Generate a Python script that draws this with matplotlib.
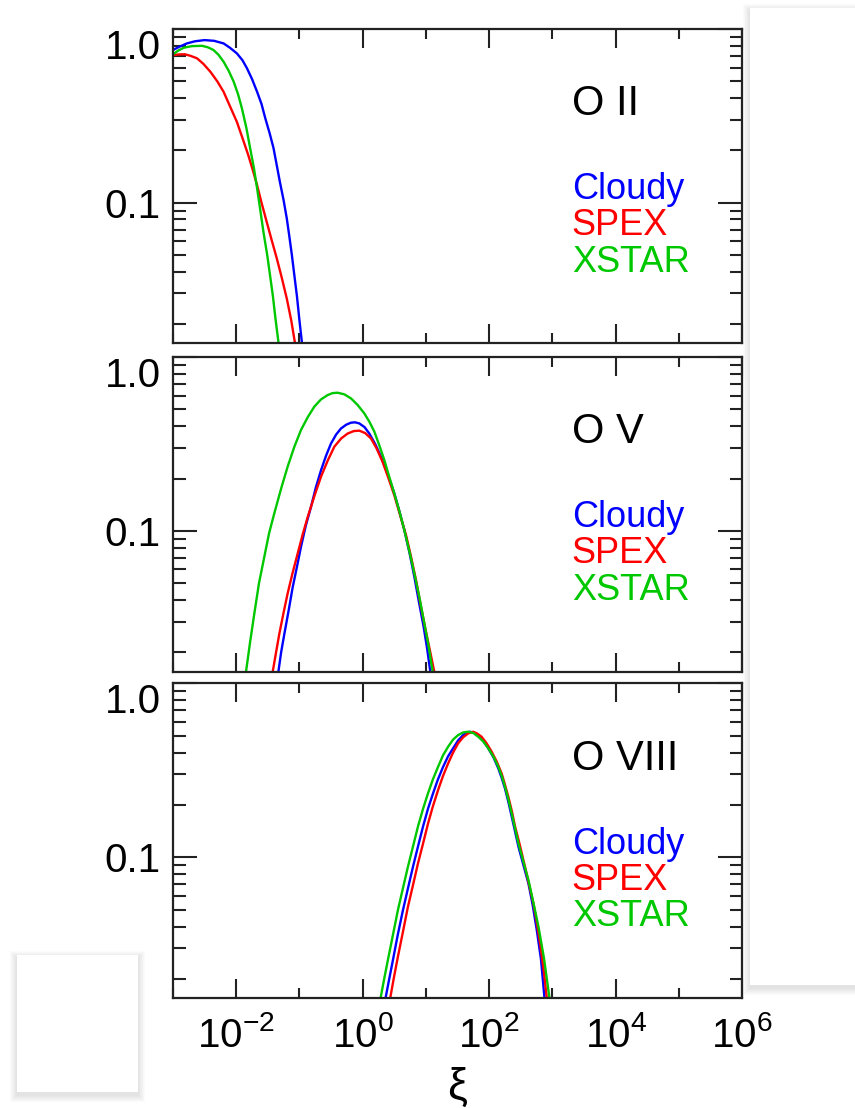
import numpy as np
import matplotlib
matplotlib.use('Agg')
import matplotlib.pyplot as plt
from matplotlib.patches import Rectangle
from matplotlib.ticker import FixedLocator, LogLocator, NullFormatter

plt.rcParams['font.family'] = ['Liberation Sans', 'DejaVu Sans']
plt.rcParams['mathtext.fontset'] = 'custom'
plt.rcParams['mathtext.rm'] = 'Liberation Sans'
plt.rcParams['mathtext.it'] = 'Liberation Sans:italic'

# ion labels and code names
ions = ['O II', 'O V', 'O VIII']
codes = ['Cloudy', 'SPEX', 'XSTAR']
code_colors = ['#0000ff', '#ff0000', '#00c800']

# ---- O II : log10(xi) and ion fraction ----
oii_cloudy_logxi = [-3.0, -2.9, -2.78, -2.65, -2.5, -2.35, -2.2, -2.1, -1.99, -1.9, -1.83, -1.75, -1.67, -1.6,
                    -1.54, -1.47, -1.41, -1.36, -1.31, -1.25, -1.2, -1.16, -1.12, -1.08, -1.04, -1.0, -0.96, -0.94]
oii_cloudy_frac = [0.757, 0.79, 0.826, 0.85, 0.863, 0.855, 0.826, 0.78, 0.724, 0.66, 0.594, 0.515, 0.435, 0.37,
                   0.306, 0.25, 0.206, 0.165, 0.132, 0.103, 0.081, 0.064, 0.05, 0.038, 0.029, 0.021, 0.0155, 0.013]
oii_spex_logxi = [-3.0, -2.9, -2.81, -2.72, -2.62, -2.52, -2.41, -2.3, -2.2, -2.1, -1.99, -1.9, -1.81, -1.74,
                  -1.67, -1.6, -1.52, -1.44, -1.36, -1.28, -1.2, -1.13, -1.07, -1.05]
oii_spex_frac = [0.708, 0.714, 0.715, 0.7, 0.678, 0.63, 0.568, 0.5, 0.435, 0.36, 0.292, 0.235, 0.188, 0.155,
                 0.126, 0.1, 0.078, 0.061, 0.048, 0.037, 0.028, 0.021, 0.0155, 0.013]
oii_xstar_logxi = [-3.0, -2.92, -2.83, -2.7, -2.54, -2.45, -2.36, -2.28, -2.2, -2.12, -2.04, -1.97, -1.91, -1.84,
                   -1.78, -1.72, -1.67, -1.62, -1.57, -1.51, -1.46, -1.42, -1.38, -1.33, -1.31]
oii_xstar_frac = [0.715, 0.75, 0.78, 0.797, 0.8, 0.785, 0.757, 0.71, 0.648, 0.575, 0.497, 0.42, 0.349, 0.27,
                  0.206, 0.158, 0.121, 0.091, 0.068, 0.05, 0.037, 0.029, 0.0216, 0.0155, 0.013]

# ---- O V ----
ov_cloudy_logxi = [-1.36, -1.334, -1.29, -1.239, -1.17, -1.108, -1.04, -0.976, -0.9, -0.818, -0.74, -0.659, -0.58,
                   -0.501, -0.42, -0.343, -0.26, -0.185, -0.12, -0.053, 0.03, 0.105, 0.2, 0.29, 0.4, 0.501, 0.58,
                   0.659, 0.74, 0.818, 0.89, 0.965, 1.02, 1.071, 1.09]
ov_cloudy_frac = [0.013, 0.0154, 0.02, 0.0255, 0.035, 0.0472, 0.062, 0.0809, 0.107, 0.137, 0.178, 0.223, 0.27,
                  0.318, 0.358, 0.388, 0.408, 0.419, 0.421, 0.415, 0.395, 0.363, 0.315, 0.267, 0.21, 0.164, 0.13,
                  0.101, 0.075, 0.0543, 0.039, 0.028, 0.021, 0.0154, 0.013]
ov_spex_logxi = [-1.45, -1.424, -1.37, -1.319, -1.25, -1.187, -1.11, -1.028, -0.95, -0.87, -0.76, -0.659, -0.55,
                 -0.448, -0.34, -0.237, -0.14, -0.053, 0.04, 0.132, 0.22, 0.316, 0.41, 0.501, 0.59, 0.686, 0.765,
                 0.844, 0.92, 1.002, 1.07, 1.134, 1.15]
ov_spex_frac = [0.013, 0.0154, 0.02, 0.0255, 0.034, 0.0436, 0.057, 0.074, 0.095, 0.12, 0.16, 0.205, 0.255,
                0.305, 0.34, 0.363, 0.375, 0.377, 0.365, 0.34, 0.298, 0.249, 0.2, 0.16, 0.124, 0.0944, 0.071,
                0.052, 0.037, 0.0262, 0.02, 0.0154, 0.013]
ov_xstar_logxi = [-1.87, -1.846, -1.78, -1.714, -1.64, -1.556, -1.48, -1.398, -1.29, -1.187, -1.08, -0.976, -0.87,
                  -0.765, -0.66, -0.554, -0.475, -0.396, -0.29, -0.185, -0.08, 0.026, 0.105, 0.185, 0.264, 0.343,
                  0.42, 0.501, 0.58, 0.659, 0.74, 0.818, 0.9, 0.976, 1.04, 1.108, 1.13]
ov_xstar_frac = [0.013, 0.0154, 0.023, 0.0334, 0.05, 0.0708, 0.097, 0.126, 0.175, 0.234, 0.305, 0.38, 0.45,
                 0.518, 0.57, 0.604, 0.62, 0.623, 0.61, 0.578, 0.53, 0.474, 0.425, 0.372, 0.31, 0.255,
                 0.205, 0.164, 0.13, 0.101, 0.076, 0.0568, 0.041, 0.0293, 0.022, 0.0154, 0.013]

# ---- O VIII ----
oviii_cloudy_logxi = [0.34, 0.36, 0.42, 0.477, 0.556, 0.636, 0.715, 0.795, 0.874, 0.954, 1.033, 1.113, 1.19, 1.272,
                      1.35, 1.43, 1.51, 1.589, 1.64, 1.695, 1.77, 1.854, 1.92, 1.987, 2.07, 2.146, 2.2, 2.252,
                      2.305, 2.358, 2.41, 2.464, 2.54, 2.623, 2.69, 2.755, 2.82, 2.877, 2.9]
oviii_cloudy_frac = [0.013, 0.0154, 0.02, 0.0255, 0.036, 0.0495, 0.066, 0.088, 0.115, 0.15, 0.19, 0.233, 0.28, 0.331,
                     0.38, 0.423, 0.47, 0.504, 0.52, 0.527, 0.518, 0.493, 0.46, 0.423, 0.375, 0.324, 0.285, 0.248,
                     0.208, 0.171, 0.141, 0.115, 0.091, 0.0705, 0.053, 0.038, 0.026, 0.0154, 0.013]
oviii_spex_logxi = [0.41, 0.434, 0.49, 0.556, 0.635, 0.715, 0.795, 0.874, 0.955, 1.033, 1.11, 1.192, 1.27, 1.351,
                    1.43, 1.51, 1.59, 1.669, 1.748, 1.81, 1.881, 1.96, 2.04, 2.12, 2.199, 2.25, 2.305, 2.36,
                    2.411, 2.48, 2.543, 2.62, 2.702, 2.755, 2.808, 2.86, 2.914, 2.94]
oviii_spex_frac = [0.013, 0.0154, 0.02, 0.0267, 0.037, 0.0518, 0.069, 0.092, 0.12, 0.156, 0.196, 0.243, 0.293, 0.346,
                   0.4, 0.452, 0.49, 0.515, 0.527, 0.515, 0.493, 0.452, 0.405, 0.355, 0.303, 0.262, 0.222, 0.184,
                   0.15, 0.12, 0.0962, 0.073, 0.054, 0.042, 0.0318, 0.023, 0.0154, 0.013]
oviii_xstar_logxi = [0.26, 0.281, 0.34, 0.397, 0.48, 0.556, 0.635, 0.715, 0.795, 0.874, 0.955, 1.033, 1.11, 1.192,
                     1.27, 1.351, 1.43, 1.51, 1.59, 1.669, 1.75, 1.828, 1.91, 1.987, 2.07, 2.146, 2.2, 2.252,
                     2.305, 2.358, 2.41, 2.464, 2.54, 2.623, 2.7, 2.782, 2.87, 2.956, 2.98]
oviii_xstar_frac = [0.013, 0.0154, 0.02, 0.0255, 0.036, 0.0495, 0.066, 0.088, 0.115, 0.15, 0.19, 0.233, 0.28, 0.331,
                    0.385, 0.432, 0.475, 0.504, 0.522, 0.527, 0.518, 0.493, 0.462, 0.423, 0.378, 0.331, 0.293, 0.254,
                    0.215, 0.178, 0.147, 0.12, 0.095, 0.0738, 0.055, 0.0397, 0.026, 0.0154, 0.013]

panel_data = [
    [(oii_cloudy_logxi, oii_cloudy_frac), (oii_spex_logxi, oii_spex_frac), (oii_xstar_logxi, oii_xstar_frac)],
    [(ov_cloudy_logxi, ov_cloudy_frac), (ov_spex_logxi, ov_spex_frac), (ov_xstar_logxi, ov_xstar_frac)],
    [(oviii_cloudy_logxi, oviii_cloudy_frac), (oviii_spex_logxi, oviii_spex_frac), (oviii_xstar_logxi, oviii_xstar_frac)],
]

xtick_major = [1e-2, 1e0, 1e2, 1e4, 1e6]
xtick_minor = [1e-3, 1e-1, 1e1, 1e3, 1e5]
xtick_labels = [r'$10^{-2}$', r'$10^{0}$', r'$10^{2}$', r'$10^{4}$', r'$10^{6}$']
ytick_major = [0.1, 1.0]
ytick_labels = ['0.1', '1.0']

W, H = 855, 1108
fig = plt.figure(figsize=(W / 100, H / 100), dpi=100)

# panel geometry in pixels (top, bottom)
left_px, right_px = 173, 742
panel_px = [(29, 343.3), (357, 671.7), (683.3, 998.3)]
edge = '#222222'

for i, (top, bot) in enumerate(panel_px):
    ax = fig.add_axes([left_px / W, 1 - bot / H, (right_px - left_px) / W, (bot - top) / H])
    for (lx, fr), col in zip(panel_data[i], code_colors):
        ax.plot(10 ** np.array(lx), fr, color=col, lw=1.7, solid_joinstyle='round')
    ax.set_xscale('log')
    ax.set_yscale('log')
    ax.set_xlim(1e-3, 1e6)
    ax.set_ylim(10 ** -1.81, 1.0)

    ax.xaxis.set_major_locator(FixedLocator(xtick_major))
    ax.xaxis.set_minor_locator(FixedLocator(xtick_minor))
    ax.xaxis.set_minor_formatter(NullFormatter())
    if i == 2:
        ax.set_xticklabels(xtick_labels)
        ax.set_xlabel('ξ', fontsize=32, labelpad=8)
    else:
        ax.set_xticklabels([])

    ax.yaxis.set_major_locator(FixedLocator(ytick_major))
    ax.yaxis.set_minor_locator(LogLocator(base=10, subs=np.arange(2, 10)))
    ax.yaxis.set_minor_formatter(NullFormatter())
    ax.set_yticklabels(ytick_labels)
    ax.yaxis.get_major_ticks()[1].label1.set_verticalalignment('top')

    ax.tick_params(axis='both', which='both', direction='in', top=True, right=True,
                   width=1.5, color=edge, labelsize=29)
    ax.tick_params(axis='x', which='major', length=14, pad=13)
    ax.tick_params(axis='x', which='minor', length=7)
    ax.tick_params(axis='y', which='major', length=17, pad=9)
    ax.tick_params(axis='y', which='minor', length=9)
    for sp in ax.spines.values():
        sp.set_linewidth(1.6)
        sp.set_color(edge)

    ax.text(0.701, 0.726, ions[i], transform=ax.transAxes, fontsize=30, color='black')
    for name, col, yy in zip(codes, code_colors, [0.459, 0.345, 0.228]):
        ax.text(0.701, yy, name, transform=ax.transAxes, fontsize=26, color=col)


# white "cards" with a soft shadow, sitting on top of the page
def draw_card(x0, y0, x1, y1):
    for k in range(7, 0, -1):
        fig.add_artist(Rectangle(((x0 - k) / W, 1 - (y1 + k + 3) / H),
                                 (x1 - x0 + 2 * k) / W, (y1 - y0 + 2 * k) / H,
                                 transform=fig.transFigure, facecolor='black',
                                 edgecolor='none', alpha=0.016, zorder=10))
    fig.add_artist(Rectangle((x0 / W, 1 - y1 / H), (x1 - x0) / W, (y1 - y0) / H,
                             transform=fig.transFigure, facecolor='white',
                             edgecolor='none', zorder=11))


draw_card(750, 8, 870, 985)
draw_card(17, 955, 138, 1092)

fig.savefig('out.png', dpi=100)
